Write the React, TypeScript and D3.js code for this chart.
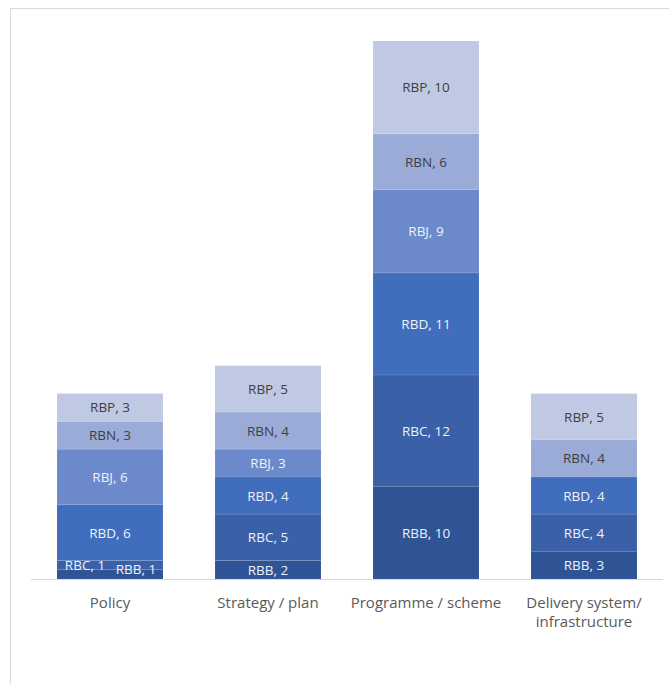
import React from "react";
import * as d3 from "d3";

const categories = ["Policy", "Strategy / plan", "Programme / scheme", "Delivery system/\ninfrastructure"];
const seriesNames = ["RBB", "RBC", "RBD", "RBJ", "RBN", "RBP"];
const RBB = [1, 2, 10, 3];
const RBC = [1, 5, 12, 4];
const RBD = [6, 4, 11, 4];
const RBJ = [6, 3, 9, 0];
const RBN = [3, 4, 6, 4];
const RBP = [3, 5, 10, 5];
const seriesValues = [RBB, RBC, RBD, RBJ, RBN, RBP];

const colors = ["#2f5496", "#3a60a8", "#416dbd", "#6b89cb", "#9babd8", "#bfc9e4"];
const labelColors = ["#eef1f8", "#eef1f8", "#eef1f8", "#eef1f8", "#404040", "#404040"];

// manual label nudges (like Excel's dragged labels) keyed by "series|category index"
const labelOffsets: Record<string, [number, number]> = {
  "RBC|0": [-25, 0],
  "RBB|0": [26, -5],
};

export default function App() {
  const W = 669, H = 684;
  const rows = categories.map((c, i) => {
    const r: any = { cat: c };
    seriesNames.forEach((s, k) => (r[s] = seriesValues[k][i]));
    return r;
  });
  const stack = d3.stack<any>().keys(seriesNames)(rows);
  const x = d3.scaleBand<string>().domain(categories).range([31, 663]).paddingInner(0.329).paddingOuter(0.1645);
  const y = d3.scaleLinear().domain([0, 58]).range([579, 41]);
  const font = "'Open Sans', 'Noto Sans', sans-serif";

  return (
    <svg width={W} height={H} style={{ position: "absolute", left: 0, top: 0 }}>
      <rect x={0} y={0} width={W} height={H} fill="#fff" />
      <rect x={10.5} y={8.5} width={W} height={H} fill="none" stroke="#d9d9d9" strokeWidth={1} />
      {stack.map((layer, k) => (
        <g key={layer.key}>
          {layer.map((d, i) => {
            const v = d[1] - d[0];
            if (v <= 0) return null;
            return (
              <rect
                key={i}
                x={x(categories[i])!}
                y={y(d[1])}
                width={x.bandwidth()}
                height={y(d[0]) - y(d[1])}
                fill={colors[k]}
                stroke="#ffffff"
                strokeOpacity={0.12}
                strokeWidth={0.75}
              />
            );
          })}
        </g>
      ))}
      {stack.map((layer, k) => (
        <g key={"l" + layer.key}>
          {layer.map((d, i) => {
            const v = d[1] - d[0];
            if (v <= 0) return null;
            const x0 = x(categories[i])!;
            const y0 = y(d[1]);
            const h = y(d[0]) - y(d[1]);
            const off = labelOffsets[`${layer.key}|${i}`] || [0, 0];
            return (
              <text
                key={i}
                x={x0 + x.bandwidth() / 2 + off[0]}
                y={y0 + h / 2 + off[1]}
                textAnchor="middle"
                dominantBaseline="central"
                fontFamily={font}
                fontSize={13.5}
                fill={labelColors[k]}
              >
                {`${layer.key}, ${v}`}
              </text>
            );
          })}
        </g>
      ))}
      <line x1={31} x2={663} y1={579.5} y2={579.5} stroke="#d9d9d9" strokeWidth={1} />
      {categories.map((c) => (
        <text
          key={c}
          x={x(c)! + x.bandwidth() / 2}
          y={602}
          textAnchor="middle"
          dominantBaseline="central"
          fontFamily={font}
          fontSize={15}
          fill="#595959"
        >
          {c.split("\n").map((line, j) => (
            <tspan key={j} x={x(c)! + x.bandwidth() / 2} dy={j === 0 ? 0 : 19}>
              {line}
            </tspan>
          ))}
        </text>
      ))}
    </svg>
  );
}
